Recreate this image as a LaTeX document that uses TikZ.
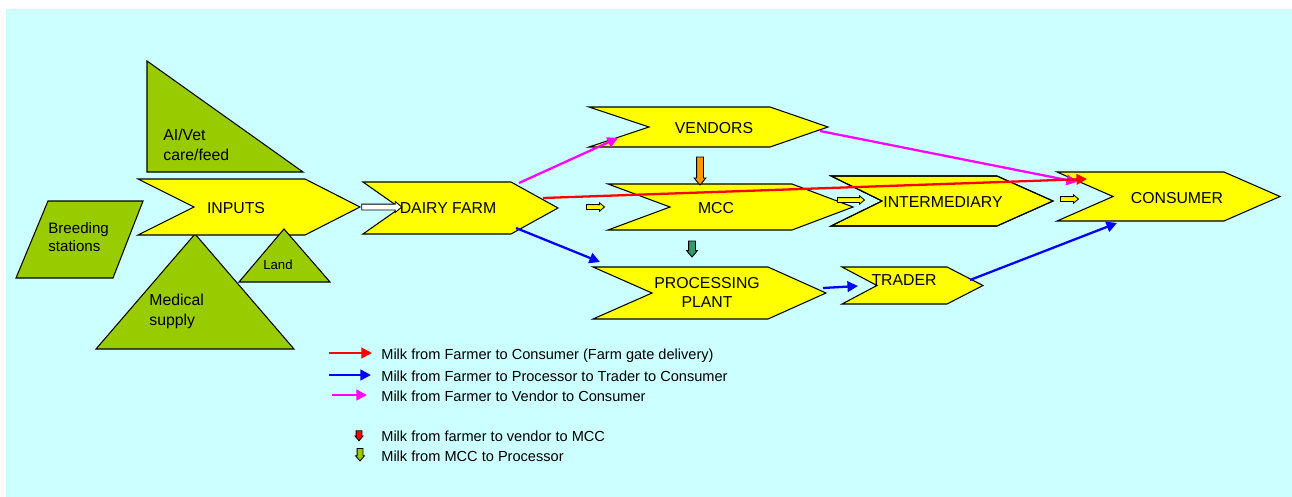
\documentclass[tikz,border=0pt]{standalone}
\usepackage{fontspec}
\setmainfont{Liberation Sans}
\usetikzlibrary{arrows.meta,shapes.arrows}

\definecolor{bgcyan}{HTML}{CCFFFF}
\definecolor{chevyellow}{HTML}{FFFF00}
\definecolor{inputgreen}{HTML}{99CC00}
\definecolor{vendorange}{HTML}{FF9900}
\definecolor{mccgreen}{HTML}{339966}
\definecolor{milkmag}{RGB}{255,0,255}
\definecolor{milkblue}{RGB}{0,0,255}
\definecolor{milkred}{RGB}{255,0,0}

% chevron: left x, right x, tip x, notch x, top y, bottom y
\newcommand{\chevron}[7][chev]{%
  \path[#1] (#2,#6) -- (#3,#6) -- (#4,{(#6+#7)/2}) -- (#3,#7) -- (#2,#7)
    -- (#5,{(#6+#7)/2}) -- cycle;}

\tikzset{
  chev/.style={fill=chevyellow, draw=black, line width=0.6pt},
  inbox/.style={fill=inputgreen, draw=black, line width=0.6pt},
  lbl/.style={font=\fontsize{9}{11}\selectfont, inner sep=0pt,
    text height=0.72em, text depth=0pt},
  mlbl/.style={font=\fontsize{9}{11.4}\selectfont, inner sep=0pt, align=left},
  leg/.style={font=\fontsize{8.3}{10}\selectfont, inner sep=0pt, anchor=west,
    text height=0.72em, text depth=0pt},
  flow/.style={line width=1.3pt, ->},
  blk/.style={single arrow, draw=black, line width=0.5pt, inner xsep=0pt,
    single arrow tip angle=80},
}

\begin{document}
\begin{tikzpicture}[x=0.02cm,y=-0.02cm,
    >={Triangle[length=6pt,width=6pt]}]
  \useasboundingbox (0,0) rectangle (1292,497);
  \fill[white] (0,0) rectangle (1292,497);
  \fill[bgcyan] (6,9) rectangle (1292,497);

  % Inputs
  \filldraw[inbox] (147,61) -- (147,172) -- (303,172) -- cycle;
  \filldraw[inbox] (48,201) -- (143,201) -- (113,278) -- (16,278) -- cycle;
  \filldraw[inbox] (195,234) -- (294,349) -- (96,349) -- cycle;
  \chevron{138}{305}{360}{194}{179}{235}
  \filldraw[inbox] (284,229) -- (330,282) -- (239,282) -- cycle;
  \node[mlbl, anchor=west] (aivet) at (163,145) {AI/Vet\\care/feed};
  \node[mlbl, anchor=west, font=\fontsize{8.6}{10.2}\selectfont] (breed) at (48,237) {Breeding\\stations};
  \node[mlbl, anchor=west] (medical) at (149,311) {Medical\\supply};
  \node[lbl, font=\fontsize{7.5}{9}\selectfont] (land) at (278,263) {Land};
  \node[lbl] (inputs) at (236,207) {INPUTS};

  % Cadena de la leche
  \chevron{363}{511}{558}{400}{182}{234}
  \chevron{589}{770}{828}{649}{107}{147}
  \chevron{831}{997}{1053}{882}{176}{226}
  \chevron{608}{792}{853}{670}{184}{230}
  \chevron[draw=black, line width=0.6pt]{831}{997}{1053}{882}{176}{226}
  \chevron{593}{768}{826}{652}{267}{319}
  \chevron{842}{947}{983}{877}{267}{304}
  \chevron{1057}{1224}{1280}{1113}{172}{221}

  \node[lbl] (dairy) at (448,207) {DAIRY FARM};
  \node[lbl] (vendors) at (714,127) {VENDORS};
  \node[lbl] (mcc) at (716,207) {MCC};
  \node[mlbl, align=center, font=\fontsize{9}{10.8}\selectfont] (plant) at (707,292) {PROCESSING\\PLANT\hspace{2.2em}};
  \node[lbl] (inter) at (943,201) {INTERMEDIARY};
  \node[lbl] (trader) at (904,279) {TRADER};
  \node[lbl] (consumer) at (1177,197) {CONSUMER};

  % Flechas de bloque
  \node[blk, fill=white, minimum height=0.8cm, inner ysep=0.05cm,
    single arrow head extend=0.05cm] (inarr) at (380,207) {};
  \node[blk, fill=chevyellow, minimum height=0.36cm, inner ysep=0.04cm,
    single arrow head extend=0.035cm] (mccarr) at (594,207) {};
  \node[blk, fill=chevyellow, minimum height=0.54cm, inner ysep=0.04cm,
    single arrow head extend=0.035cm] (interarr) at (849.5,200) {};
  \node[blk, fill=chevyellow, minimum height=0.36cm, inner ysep=0.04cm,
    single arrow head extend=0.035cm] (consarr) at (1068,199) {};
  \node[blk, fill=vendorange, rotate=-90, minimum height=0.56cm, inner ysep=0.06cm,
    single arrow head extend=0.05cm] (vmarr) at (700,169) {};
  \node[blk, fill=mccgreen, rotate=-90, minimum height=0.32cm, inner ysep=0.06cm,
    single arrow head extend=0.04cm] (mparr) at (692,247) {};

  % Puntos de salida y llegada
  \coordinate (dfN) at (519,183);
  \coordinate (dfE) at (543,198);
  \coordinate (dfS) at (516,228);
  \coordinate (vnW) at (618,138);
  \coordinate (vnE) at (820,131);
  \coordinate (ppW) at (600,262);
  \coordinate (ppE) at (823,288);
  \coordinate (trW) at (858,286);
  \coordinate (trE) at (970,280);
  \coordinate (csW) at (1077,182);
  \coordinate (csN) at (1087,179);
  \coordinate (csS) at (1117,223);

  % Caminos de la leche
  \draw[flow, milkmag] (dfN) -- (vnW);
  \draw[flow, milkmag] (vnE) -- (csW);
  \draw[flow, milkred] (dfE) -- (csN);
  \draw[flow, milkblue] (dfS) -- (ppW);
  \draw[flow, milkblue] (ppE) -- (trW);
  \draw[flow, milkblue] (trE) -- (csS);

  % Leyenda
  \coordinate (lgA1) at (329,353); \coordinate (lgA2) at (372,353);
  \coordinate (lgB1) at (329,375); \coordinate (lgB2) at (371,375);
  \coordinate (lgC1) at (332,395); \coordinate (lgC2) at (367,395);
  \draw[flow, milkred] (lgA1) -- (lgA2);
  \draw[flow, milkblue] (lgB1) -- (lgB2);
  \draw[flow, milkmag] (lgC1) -- (lgC2);
  \node[blk, fill=milkred, rotate=-90, minimum height=0.2cm, inner ysep=0.05cm,
    single arrow head extend=0.02cm] (lgD) at (359,434) {};
  \node[blk, fill=inputgreen, rotate=-90, minimum height=0.25cm, inner ysep=0.05cm,
    single arrow head extend=0.03cm] (lgE) at (360,453) {};
  \node[leg] (lgtA) at (381,353) {Milk from Farmer to Consumer (Farm gate delivery)};
  \node[leg] (lgtB) at (381,375) {Milk from Farmer to Processor to Trader to Consumer};
  \node[leg] (lgtC) at (381,395) {Milk from Farmer to Vendor to Consumer};
  \node[leg] (lgtD) at (381,435) {Milk from farmer to vendor to MCC};
  \node[leg] (lgtE) at (381,455) {Milk from MCC to Processor};
\end{tikzpicture}
\end{document}
